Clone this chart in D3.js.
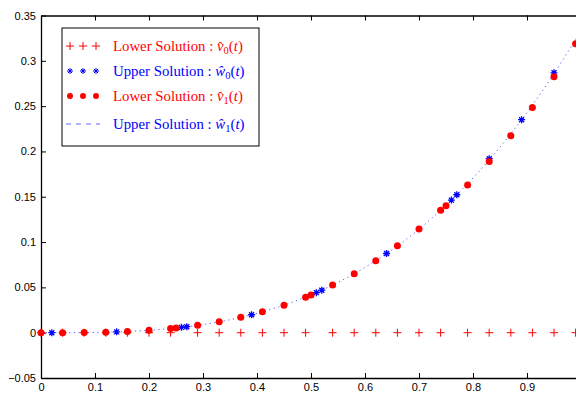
<!DOCTYPE html>
<html lang="en">
<head>
  <meta charset="UTF-8" />
  <title>Lower and Upper Solutions</title>
  <script src="https://d3js.org/d3.v7.min.js"></script>
  <style>
    body { margin: 0; background: #fff; }
    svg { display: block; }
    .tick text { font-family: "Liberation Sans", Arial, sans-serif; font-size: 11px; fill: #000; }
  </style>
</head>
<body>
  <svg id="chart" width="576" height="393"></svg>
  <script>
    // t grid and values
    const v0T = [0, 0.04, 0.08, 0.12, 0.16, 0.20, 0.24, 0.29, 0.33, 0.37, 0.41, 0.45, 0.49,
                 0.54, 0.58, 0.62, 0.66, 0.70, 0.74, 0.79, 0.83, 0.87, 0.91, 0.95, 0.99];
    const v0Val = v0T.map(() => 0); // lower solution v0 is flat zero

    const w0T = [0.02, 0.14, 0.26, 0.27, 0.39, 0.51, 0.52, 0.64, 0.76, 0.77, 0.83, 0.89, 0.95];
    const w0Val = [0.0000, 0.0009, 0.0059, 0.0066, 0.0198, 0.0442, 0.0469, 0.0874, 0.1463,
                   0.1522, 0.1920, 0.2350, 0.2868];

    const v1T = [0, 0.04, 0.08, 0.12, 0.16, 0.20, 0.24, 0.25, 0.29, 0.33, 0.37, 0.41, 0.45,
                 0.49, 0.50, 0.54, 0.58, 0.62, 0.66, 0.70, 0.74, 0.75, 0.79, 0.83, 0.87,
                 0.91, 0.95, 0.99];
    const v1Val = [0, 0.0000, 0.0002, 0.0006, 0.0014, 0.0027, 0.0046, 0.0052, 0.0081, 0.0120,
                   0.0169, 0.0230, 0.0304, 0.0392, 0.0417, 0.0525, 0.0650, 0.0794, 0.0958,
                   0.1143, 0.1350, 0.1400, 0.1630, 0.1890, 0.2174, 0.2486, 0.2824, 0.3188];

    const w1T = [0, 0.05, 0.1, 0.15, 0.2, 0.25, 0.3, 0.35, 0.4, 0.45, 0.5, 0.55, 0.6, 0.65,
                 0.7, 0.75, 0.8, 0.85, 0.9, 0.95, 1.0];
    const w1Val = [0, 0.00004, 0.0003, 0.0011, 0.0027, 0.0052, 0.0090, 0.0143, 0.0213, 0.0304,
                   0.0417, 0.0555, 0.0720, 0.0915, 0.1143, 0.1406, 0.1707, 0.2047, 0.2430,
                   0.2858, 0.3333];

    // the axis runs to 1 but the picture is cropped just before it
    const xTicks = [0, 0.1, 0.2, 0.3, 0.4, 0.5, 0.6, 0.7, 0.8, 0.9];
    const yTicks = [-0.05, 0, 0.05, 0.1, 0.15, 0.2, 0.25, 0.3, 0.35];

    const legendLabels = [
      {text: "Lower Solution : ", sym: "v", sub: "0", color: "#ff0000", kind: "plus"},
      {text: "Upper Solution : ", sym: "w", sub: "0", color: "#0000ff", kind: "star"},
      {text: "Lower Solution : ", sym: "v", sub: "1", color: "#ff0000", kind: "dot"},
      {text: "Upper Solution : ", sym: "w", sub: "1", color: "#0000ff", kind: "dash"}
    ];

    const svg = d3.select("#chart"),
          margin = {top: 15.5, left: 41},
          width = 540,
          height = 362.5;

    const chart = svg.append("g")
        .attr("transform", `translate(${margin.left},${margin.top})`);

    const x = d3.scaleLinear().domain([0, 1]).range([0, width]);
    const y = d3.scaleLinear().domain([-0.05, 0.35]).range([height, 0]);

    const fmt = d => String(d).replace("-", "\u2212");

    // axes (ticks pointing inward, box on all four sides)
    const styleAxis = g => {
      g.select(".domain").attr("stroke", "#000").attr("stroke-width", 1.3);
      g.selectAll(".tick line").attr("stroke", "#000");
    };
    chart.append("g")
        .attr("transform", `translate(0,${height})`)
        .call(d3.axisBottom(x).tickValues(xTicks).tickFormat(fmt).tickSizeInner(-5).tickSizeOuter(0).tickPadding(5))
        .call(styleAxis);
    chart.append("g")
        .call(d3.axisLeft(y).tickValues(yTicks).tickFormat(fmt).tickSizeInner(-5).tickSizeOuter(0).tickPadding(5))
        .call(styleAxis);
    chart.append("g")
        .call(d3.axisTop(x).tickValues(xTicks).tickFormat("").tickSizeInner(-5).tickSizeOuter(0))
        .call(styleAxis);
    chart.append("g")
        .attr("transform", `translate(${width},0)`)
        .call(d3.axisRight(y).tickValues(yTicks).tickFormat("").tickSizeInner(-5).tickSizeOuter(0))
        .call(styleAxis);

    // w1: dotted line
    const line = d3.line()
        .x((d, i) => x(w1T[i]))
        .y(d => y(d))
        .curve(d3.curveMonotoneX);
    chart.append("path")
        .datum(w1Val)
        .attr("d", line)
        .attr("fill", "none")
        .attr("stroke", "#5a5aff")
        .attr("stroke-width", 1)
        .attr("stroke-dasharray", "1.2,3.5");

    const plusPath = "M-4,0H4M0,-4V4";
    const starPath = "M-3.5,0H3.5M0,-3.5V3.5M-2.5,-2.5L2.5,2.5M-2.5,2.5L2.5,-2.5";
    const smallStar = "M-3,0H3M0,-3V3M-2,-2L2,2M-2,2L2,-2";

    // v0: red plus
    chart.selectAll(".v0")
        .data(v0Val)
        .enter().append("path")
          .attr("class", "v0")
          .attr("transform", (d, i) => `translate(${x(v0T[i])},${y(d)})`)
          .attr("d", plusPath)
          .attr("stroke", "#ff0000")
          .attr("stroke-width", 1)
          .attr("fill", "none");

    // w0: blue stars
    chart.selectAll(".w0")
        .data(w0Val)
        .enter().append("path")
          .attr("class", "w0")
          .attr("transform", (d, i) => `translate(${x(w0T[i])},${y(d)})`)
          .attr("d", starPath)
          .attr("stroke", "#0000ff")
          .attr("stroke-width", 1.3)
          .attr("fill", "none");

    // v1: red dots
    chart.selectAll(".v1")
        .data(v1Val)
        .enter().append("circle")
          .attr("class", "v1")
          .attr("cx", (d, i) => x(v1T[i]))
          .attr("cy", d => y(d))
          .attr("r", 3.5)
          .attr("fill", "#ff0000");

    // Legend
    const legend = svg.append("g").attr("transform", "translate(62,28)");
    legend.append("rect")
        .attr("width", 197)
        .attr("height", 118)
        .attr("fill", "#fff")
        .attr("stroke", "#000")
        .attr("stroke-width", 1);

    const rowY = [18, 43, 68, 96];
    const markX = [8, 21, 34];
    legendLabels.forEach((d, i) => {
      const g = legend.append("g").attr("transform", `translate(0,${rowY[i]})`);
      if (d.kind === "dash") {
        g.append("line")
            .attr("x1", 4).attr("x2", 38).attr("y1", 0).attr("y2", 0)
            .attr("stroke", "#6a6aff").attr("stroke-width", 1)
            .attr("stroke-dasharray", "5,5");
      } else {
        markX.forEach(mx => {
          if (d.kind === "dot") {
            g.append("circle").attr("cx", mx).attr("cy", 0).attr("r", 3).attr("fill", d.color);
          } else {
            g.append("path")
                .attr("transform", `translate(${mx},0)`)
                .attr("d", d.kind === "plus" ? plusPath : smallStar)
                .attr("stroke", d.color)
                .attr("stroke-width", 1)
                .attr("fill", "none");
          }
        });
      }
      const t = g.append("text")
          .attr("x", 51)
          .attr("y", 5)
          .attr("fill", d.color)
          .style("font-family", "'Liberation Serif', 'Times New Roman', serif")
          .style("font-size", "14.8px");
      t.append("tspan").text(d.text);
      t.append("tspan").style("font-style", "italic").text(d.sym + "\u0302");
      t.append("tspan").attr("dy", 3).style("font-size", "10.5px").text(d.sub);
      t.append("tspan").attr("dy", -3).text("(");
      t.append("tspan").style("font-style", "italic").text("t");
      t.append("tspan").text(")");
    });
  </script>
</body>
</html>
